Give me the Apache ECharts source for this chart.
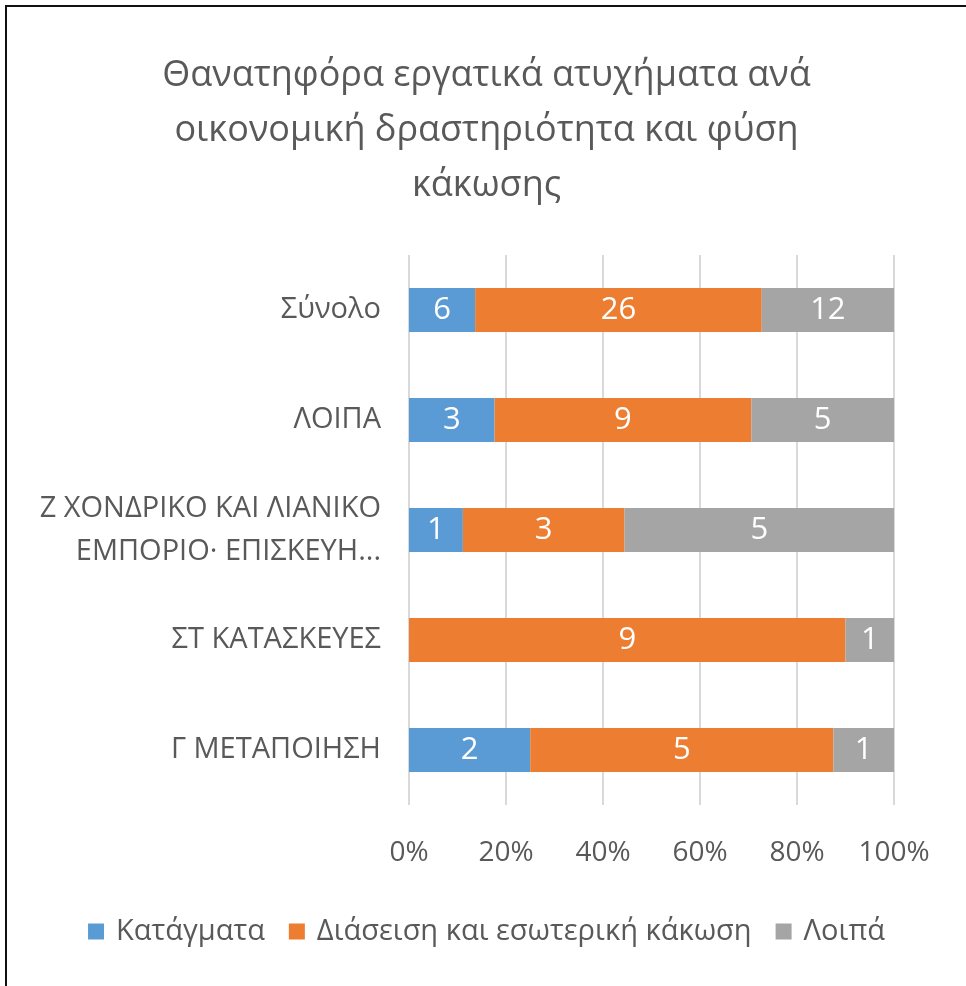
<!DOCTYPE html>
<html style="height: 100%">
<head>
<meta charset="utf-8">
<title>Θανατηφόρα εργατικά ατυχήματα</title>
<script src="https://cdn.jsdelivr.net/npm/echarts@6/dist/echarts.min.js"></script>
</head>
<body style="margin:0; height:100%; background:#fff">
<div style="position:absolute; left:5px; top:5px; width:961px; height:981px; border-left:2px solid #111; border-top:2px solid #111; box-sizing:border-box;">
  <div id="main" style="width:959px; height:979px;"></div>
</div>
<script type="text/javascript">
// κατηγορίες από πάνω προς τα κάτω
var categories = ['Σύνολο', 'ΛΟΙΠΑ', 'Ζ ΧΟΝΔΡΙΚΟ ΚΑΙ ΛΙΑΝΙΚΟ\nΕΜΠΟΡΙΟ· ΕΠΙΣΚΕΥΗ...', 'ΣΤ ΚΑΤΑΣΚΕΥΕΣ', 'Γ ΜΕΤΑΠΟΙΗΣΗ'];
var seriesNames = ['Κατάγματα', 'Διάσειση και εσωτερική κάκωση', 'Λοιπά'];
var katagmata = [6, 3, 1, 0, 2];
var diaseisi = [26, 9, 3, 9, 5];
var loipa = [12, 5, 5, 1, 1];
var colors = ['#5b9bd5', '#ed7d31', '#a5a5a5'];

var raw = [katagmata, diaseisi, loipa];
var totals = categories.map(function (c, i) { return katagmata[i] + diaseisi[i] + loipa[i]; });

var font = '"Open Sans", "Noto Sans", sans-serif';
var dom = document.getElementById('main');
var myChart = echarts.init(dom);

var series = raw.map(function (vals, s) {
    return {
        name: seriesNames[s],
        type: 'bar',
        stack: 'total',
        barWidth: '40%',
        itemStyle: { color: colors[s] },
        label: {
            show: true,
            color: '#fff',
            fontSize: 31,
            fontFamily: font,
            formatter: function (p) { return vals[p.dataIndex] ? String(vals[p.dataIndex]) : ''; }
        },
        data: vals.map(function (v, i) { return v / totals[i] * 100; })
    };
});

var option = {
    animation: false,
    title: {
        text: 'Θανατηφόρα εργατικά ατυχήματα ανά\nοικονομική δραστηριότητα και φύση\nκάκωσης',
        left: 'center',
        top: 36,
        textStyle: { color: '#595959', fontSize: 36, fontWeight: 'normal', fontFamily: font, lineHeight: 55 }
    },
    legend: {
        bottom: 35,
        left: 'center',
        itemWidth: 16,
        itemHeight: 16,
        itemGap: 24,
        icon: 'rect',
        textStyle: { color: '#595959', fontSize: 29, fontFamily: font, padding: [0, 0, 0, 7] }
    },
    grid: { left: 402, right: 72, top: 248, bottom: 181 },
    xAxis: {
        type: 'value',
        min: 0,
        max: 100,
        interval: 20,
        axisLabel: { formatter: '{value}%', color: '#595959', fontSize: 28, fontFamily: font, margin: 34 },
        splitLine: { lineStyle: { color: '#d9d9d9', width: 2 } },
        axisLine: { show: false }
    },
    yAxis: {
        type: 'category',
        inverse: true,
        data: categories,
        axisTick: { show: false },
        axisLine: { show: false },
        axisLabel: { color: '#595959', fontSize: 29, fontFamily: font, margin: 28, lineHeight: 43 }
    },
    series: series
};
myChart.setOption(option, true);
</script>
</body>
</html>
